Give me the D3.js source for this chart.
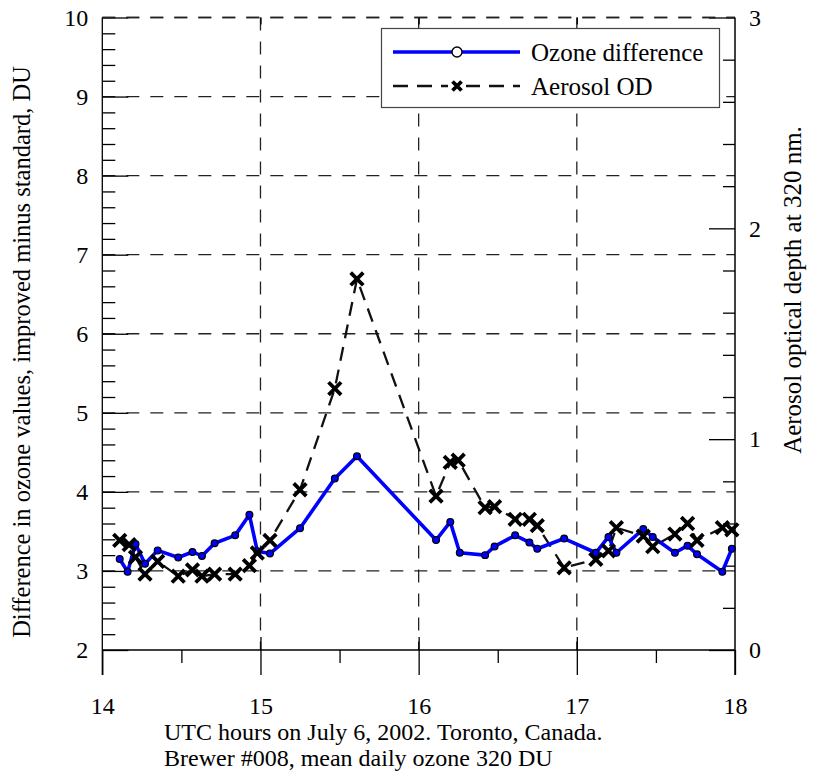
<!DOCTYPE html>
<html>
<head>
<meta charset="utf-8">
<script src="https://cdn.jsdelivr.net/npm/d3@7/dist/d3.min.js"></script>
<style>
  html, body { margin: 0; padding: 0; background: #fff; }
  svg { display: block; }
  text { font-family: "Liberation Serif", "Times New Roman", serif; fill: #000; }
</style>
</head>
<body>
<svg id="chart" width="815" height="772"></svg>
<script>
// UTC hour of each Brewer observation
const hours = [14.11, 14.16, 14.21, 14.27, 14.35, 14.48, 14.57, 14.63, 14.71, 14.84,
               14.93, 14.98, 15.06, 15.25, 15.47, 15.61, 16.11, 16.20, 16.26, 16.42,
               16.48, 16.61, 16.70, 16.75, 16.92, 17.12, 17.20, 17.25, 17.42, 17.48,
               17.62, 17.70, 17.76, 17.92, 17.98];
// Ozone difference, improved minus standard (DU)
const ozoneDiff = [3.15, 2.99, 3.34, 3.09, 3.26, 3.17, 3.24, 3.19, 3.35, 3.45,
                   3.71, 3.25, 3.22, 3.54, 4.17, 4.45, 3.39, 3.62, 3.23, 3.20,
                   3.31, 3.45, 3.36, 3.28, 3.41, 3.23, 3.43, 3.23, 3.53, 3.43,
                   3.23, 3.32, 3.21, 2.99, 3.28];
// Aerosol optical depth at 320 nm
const aerosolHours = [14.11, 14.17, 14.21, 14.27, 14.35, 14.48, 14.57, 14.63, 14.71, 14.84,
                      14.93, 14.98, 15.06, 15.25, 15.47, 15.61, 16.11, 16.20, 16.25, 16.42,
                      16.48, 16.61, 16.70, 16.75, 16.92, 17.12, 17.20, 17.25, 17.42, 17.48,
                      17.62, 17.70, 17.76, 17.92, 17.98];
const aerosolOD = [0.52, 0.50, 0.44, 0.36, 0.42, 0.35, 0.38, 0.35, 0.36, 0.36,
                   0.40, 0.46, 0.52, 0.76, 1.24, 1.76, 0.73, 0.89, 0.90, 0.675,
                   0.68, 0.62, 0.62, 0.59, 0.39, 0.43, 0.47, 0.58, 0.54, 0.49,
                   0.55, 0.60, 0.52, 0.58, 0.57];

const xTicks = [14, 15, 16, 17, 18];
const xMinorTicks = [14.5, 15.5, 16.5, 17.5];
const leftTicks = [2, 3, 4, 5, 6, 7, 8, 9, 10];
const rightTicks = [0, 1, 2, 3];
const legendLabels = ["Ozone difference", "Aerosol OD"];

(function () {
const svg = d3.select("#chart");
const pL = 102.3, pR = 735, pT = 17.5, pB = 650;
const serif = "'Liberation Serif', 'Times New Roman', serif";

const x = d3.scaleLinear().domain([14, 18]).range([pL, pR]);
const yL = d3.scaleLinear().domain([2, 10]).range([pB, pT]);
const yR = d3.scaleLinear().domain([0, 3]).range([pB, pT]);

const dash = "13,11";
const gridColor = "#222";

// dashed grid
const grid = svg.append("g");
grid.selectAll("line.h").data(leftTicks.filter(v => v > 2)).join("line")
  .attr("x1", pL).attr("x2", pR)
  .attr("y1", d => yL(d)).attr("y2", d => yL(d))
  .attr("stroke", gridColor).attr("stroke-width", 1.3).attr("stroke-dasharray", dash);
grid.selectAll("line.v").data(xTicks.filter(v => v > 14 && v < 18)).join("line")
  .attr("x1", d => x(d)).attr("x2", d => x(d))
  .attr("y1", pT).attr("y2", pB)
  .attr("stroke", gridColor).attr("stroke-width", 1.3).attr("stroke-dasharray", dash);

// left axis
const minorL = d3.range(2, 10.001, 0.2).map(v => +v.toFixed(1)).filter(v => Math.abs(v - Math.round(v)) > 1e-6);
svg.append("g").attr("transform", `translate(${pL},0)`)
  .call(d3.axisLeft(yL).tickValues(minorL).tickSize(-13).tickFormat(""))
  .call(g => g.select(".domain").remove());
svg.append("g").attr("class", "axL").attr("transform", `translate(${pL},0)`)
  .call(d3.axisLeft(yL).tickValues(leftTicks).tickSize(-26).tickPadding(14).tickFormat(d3.format("d")))
  .call(g => g.select(".domain").remove());

// right axis
const minorR = d3.range(0, 3.001, 0.2).map(v => +v.toFixed(1)).filter(v => Math.abs(v - Math.round(v)) > 1e-6);
svg.append("g").attr("transform", `translate(${pR},0)`)
  .call(d3.axisRight(yR).tickValues(minorR).tickSize(-12).tickFormat(""))
  .call(g => g.select(".domain").remove());
svg.append("g").attr("class", "axR").attr("transform", `translate(${pR},0)`)
  .call(d3.axisRight(yR).tickValues(rightTicks).tickSize(-26).tickPadding(14).tickFormat(d3.format("d")))
  .call(g => g.select(".domain").remove());

// bottom axis
svg.append("g").attr("class", "axB").attr("transform", `translate(0,${pB})`)
  .call(d3.axisBottom(x).tickValues(xTicks).tickSize(25).tickPadding(22).tickFormat(d3.format("d")))
  .call(g => g.select(".domain").remove());
svg.append("g").attr("transform", `translate(0,${pB})`)
  .call(d3.axisBottom(x).tickValues(xTicks.slice(1, 4)).tickSize(-13).tickFormat(""))
  .call(g => g.select(".domain").remove());
svg.append("g").attr("transform", `translate(0,${pB})`)
  .call(d3.axisBottom(x).tickValues(xMinorTicks).tickSize(13).tickFormat(""))
  .call(g => g.select(".domain").remove());

// top axis ticks
svg.append("g").attr("transform", `translate(0,${pT})`)
  .call(d3.axisTop(x).tickValues(xTicks.slice(1, 4)).tickSize(-7).tickFormat(""))
  .call(g => g.select(".domain").remove());

// frame: top edge dashed, others solid
svg.append("line").attr("x1", pL).attr("x2", pR).attr("y1", pT).attr("y2", pT)
  .attr("stroke", gridColor).attr("stroke-width", 1.3).attr("stroke-dasharray", dash);
svg.append("line").attr("x1", pL).attr("x2", pL).attr("y1", pT).attr("y2", pB + 25)
  .attr("stroke", "#000").attr("stroke-width", 1.3);
svg.append("line").attr("x1", pR).attr("x2", pR).attr("y1", pT).attr("y2", pB + 25)
  .attr("stroke", "#000").attr("stroke-width", 1.5);
svg.append("line").attr("x1", pL).attr("x2", pR).attr("y1", pB).attr("y2", pB)
  .attr("stroke", "#000").attr("stroke-width", 1.3);

svg.selectAll("g").attr("font-family", serif);
svg.selectAll(".tick line").attr("stroke", "#000").attr("stroke-width", 1.3);
svg.selectAll(".tick text").attr("font-family", serif).style("font-family", serif)
  .style("font-size", "24px").attr("fill", "#000");

// aerosol series: dashed line with bold crosses
const aer = aerosolHours.map((h, i) => ({ h, v: aerosolOD[i] }));
svg.append("path").datum(aer)
  .attr("fill", "none").attr("stroke", "#111").attr("stroke-width", 2.3)
  .attr("stroke-dasharray", "14,9")
  .attr("d", d3.line().x(d => x(d.h)).y(d => yR(d.v)));

// ozone series: blue line with circles
const oz = hours.map((h, i) => ({ h, v: ozoneDiff[i] }));
svg.append("path").datum(oz)
  .attr("fill", "none").attr("stroke", "#0000ff").attr("stroke-width", 3.6)
  .attr("stroke-linejoin", "round")
  .attr("d", d3.line().x(d => x(d.h)).y(d => yL(d.v)));
svg.selectAll("circle.oz").data(oz).join("circle")
  .attr("cx", d => x(d.h)).attr("cy", d => yL(d.v)).attr("r", 3.4)
  .attr("fill", "#0000ff").attr("stroke", "#000").attr("stroke-width", 1.2);

const cross = (sel, s, w) => sel.append("path")
  .attr("d", `M${-s},${-s}L${s},${s}M${-s},${s}L${s},${-s}`)
  .attr("stroke", "#000").attr("stroke-width", w).attr("fill", "none");
svg.selectAll("g.aer").data(aer).join("g")
  .attr("transform", d => `translate(${x(d.h)},${yR(d.v)})`)
  .each(function () { cross(d3.select(this), 6.3, 3.8); });

// legend
const lg = svg.append("g");
lg.append("rect").attr("x", 381.5).attr("y", 28.5).attr("width", 338).attr("height", 79)
  .attr("fill", "#fff").attr("stroke", "#444").attr("stroke-width", 1.2);
lg.append("line").attr("x1", 393).attr("x2", 520).attr("y1", 52).attr("y2", 52)
  .attr("stroke", "#0000ff").attr("stroke-width", 3.6);
lg.append("circle").attr("cx", 457).attr("cy", 52).attr("r", 5)
  .attr("fill", "#fff").attr("stroke", "#000").attr("stroke-width", 1.4);
lg.append("line").attr("x1", 393).attr("x2", 520).attr("y1", 86).attr("y2", 86)
  .attr("stroke", "#111").attr("stroke-width", 2.6).attr("stroke-dasharray", "15,9");
lg.append("g").attr("transform", "translate(457,86)")
  .call(g => { g.append("rect").attr("x", -9).attr("y", -6).attr("width", 18).attr("height", 12).attr("fill", "#fff"); cross(g, 4.5, 3.8); });
lg.selectAll("text").data(legendLabels).join("text")
  .attr("x", 531).attr("y", (d, i) => 61 + i * 34)
  .style("font-family", serif).style("font-size", "25px").text(d => d);

// axis titles
svg.append("text").attr("transform", `translate(30,352) rotate(-90)`)
  .attr("text-anchor", "middle").style("font-family", serif).style("font-size", "24.5px")
  .text("Difference in ozone values, improved minus standard, DU");
svg.append("text").attr("transform", `translate(801,290) rotate(-90)`)
  .attr("text-anchor", "middle").style("font-family", serif).style("font-size", "25px")
  .text("Aerosol optical depth at 320 nm.");
svg.append("text").attr("x", 164).attr("y", 739.5).style("font-family", serif).style("font-size", "24px")
  .text("UTC hours on July 6, 2002. Toronto, Canada.");
svg.append("text").attr("x", 164).attr("y", 766).style("font-family", serif).style("font-size", "24px")
  .text("Brewer #008, mean daily ozone 320 DU");
})();
</script>
</body>
</html>
